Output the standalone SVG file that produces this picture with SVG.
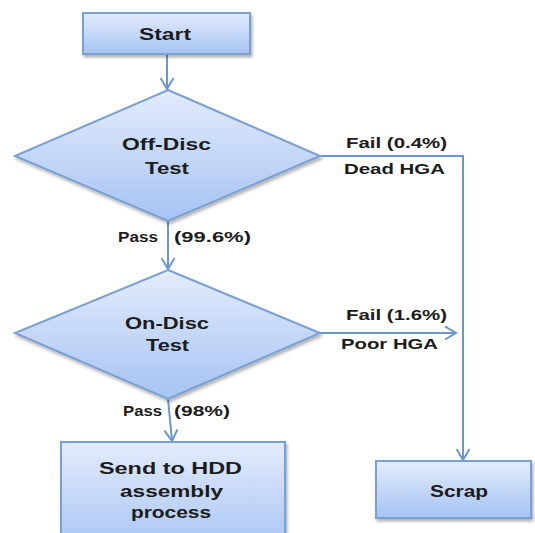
<svg xmlns="http://www.w3.org/2000/svg" width="535" height="533" viewBox="0 0 535 533">
<defs>
<linearGradient id="g" x1="0" y1="0" x2="0" y2="1">
<stop offset="0" stop-color="#e3ecfc"/>
<stop offset="1" stop-color="#a6c3f3"/>
</linearGradient>
<filter id="sh" x="-10%" y="-10%" width="130%" height="130%">
<feDropShadow dx="1.5" dy="2.5" stdDeviation="1.5" flood-color="#000" flood-opacity="0.3"/>
</filter>
<marker id="ah" markerWidth="14" markerHeight="14" viewBox="-12 -7 14 14" refX="0" refY="0" orient="auto" markerUnits="userSpaceOnUse">
<path d="M-11,-6.5 L0,0 L-11,6.5" fill="none" stroke="#6d97cc" stroke-width="2"/>
</marker>
</defs>
<style>
.n{fill:url(#g);stroke:#7aa0d2;stroke-width:2;filter:url(#sh)}
.t{font-family:"Liberation Sans",Arial,sans-serif;font-weight:bold;font-size:16px;fill:#1c1c1c;text-anchor:middle}
.l{font-family:"Liberation Sans",Arial,sans-serif;font-weight:bold;font-size:15px;fill:#1c1c1c}
.c{fill:none;stroke:#6d97cc;stroke-width:2}
</style>
<rect width="535" height="533" fill="#fff"/>
<g id="connectors">
<line class="c" x1="167" y1="55" x2="167" y2="89" marker-end="url(#ah)"/>
<line class="c" x1="168" y1="221" x2="168" y2="269" marker-end="url(#ah)"/>
<line class="c" x1="168" y1="399" x2="172" y2="441" marker-end="url(#ah)"/>
<polyline class="c" points="320,156 463,156 463,460" marker-end="url(#ah)"/>
<line class="c" x1="320" y1="333" x2="456" y2="333" marker-end="url(#ah)"/>
<text class="l" x="346" y="148" textLength="101" lengthAdjust="spacingAndGlyphs">Fail (0.4%)</text>
<text class="l" x="344" y="174" textLength="101" lengthAdjust="spacingAndGlyphs">Dead HGA</text>
<text class="l" x="118" y="242" textLength="40" lengthAdjust="spacingAndGlyphs">Pass</text>
<text class="l" x="174" y="242" textLength="77" lengthAdjust="spacingAndGlyphs">(99.6%)</text>
<text class="l" x="346" y="320" textLength="101" lengthAdjust="spacingAndGlyphs">Fail (1.6%)</text>
<text class="l" x="341" y="349" textLength="97" lengthAdjust="spacingAndGlyphs">Poor HGA</text>
<text class="l" x="123" y="416" textLength="39" lengthAdjust="spacingAndGlyphs">Pass</text>
<text class="l" x="174" y="416" textLength="56" lengthAdjust="spacingAndGlyphs">(98%)</text>
</g>
<g id="start">
<rect class="n" x="83" y="13" width="167" height="41"/>
<text class="t" x="165" y="40" textLength="52" lengthAdjust="spacingAndGlyphs">Start</text>
</g>
<g id="offdisc">
<polygon class="n" points="168,90 320,156 168,221 15,156"/>
<text class="t" x="166.5" y="150" textLength="89" lengthAdjust="spacingAndGlyphs">Off-Disc</text>
<text class="t" x="167" y="174" textLength="44" lengthAdjust="spacingAndGlyphs">Test</text>
</g>
<g id="ondisc">
<polygon class="n" points="168,270 320,333 168,399 15,333"/>
<text class="t" x="167" y="329" textLength="84" lengthAdjust="spacingAndGlyphs">On-Disc</text>
<text class="t" x="167.5" y="351" textLength="43" lengthAdjust="spacingAndGlyphs">Test</text>
</g>
<g id="send">
<rect class="n" x="61" y="442" width="224" height="110"/>
<text class="t" x="170.5" y="474" textLength="143" lengthAdjust="spacingAndGlyphs">Send to HDD</text>
<text class="t" x="171.5" y="497" textLength="103" lengthAdjust="spacingAndGlyphs">assembly</text>
<text class="t" x="171" y="518" textLength="80" lengthAdjust="spacingAndGlyphs">process</text>
</g>
<g id="scrap">
<rect class="n" x="376" y="461" width="155" height="57"/>
<text class="t" x="459" y="497" textLength="58" lengthAdjust="spacingAndGlyphs">Scrap</text>
</g>
</svg>
